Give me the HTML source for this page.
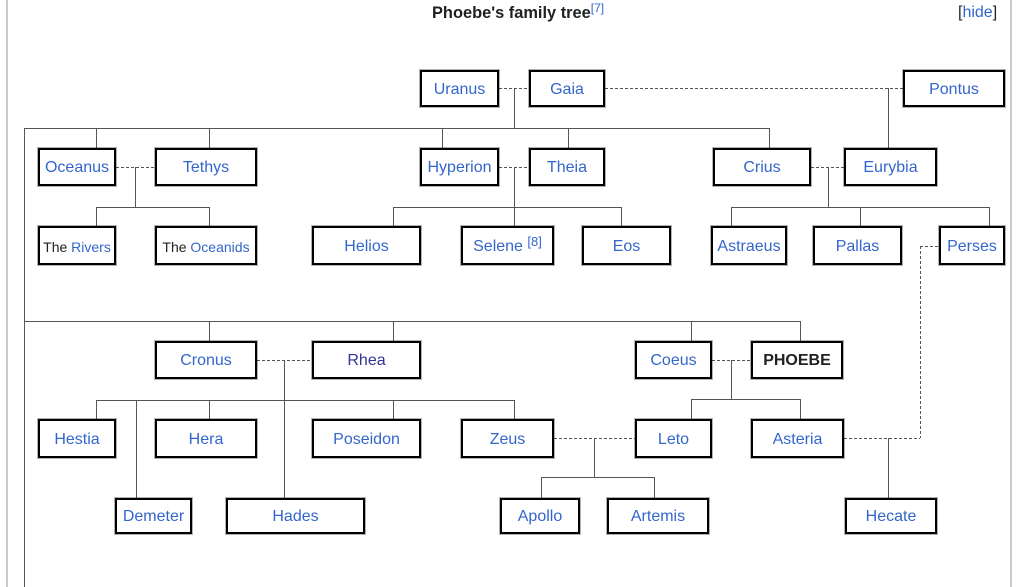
<!DOCTYPE html>
<html><head><meta charset="utf-8">
<style>
html,body{margin:0;padding:0;background:#fff;}
body{width:1023px;height:587px;position:relative;overflow:hidden;font-family:"Liberation Sans",Arial,sans-serif;}
.b{position:absolute;box-sizing:border-box;border:2px solid #000;box-shadow:0 0 0 1px rgba(0,0,0,0.3);background:#fff;display:flex;align-items:center;justify-content:center;font-size:16px;color:#3366cc;white-space:nowrap;padding-top:2px;}
.d{color:#202122;}
.v{color:#33339a;}
.sm{font-size:14px;}
.s8{font-size:13px;line-height:0;position:relative;top:-5px;color:#3366cc;}
svg{position:absolute;left:0;top:0;}
#title{position:absolute;left:432px;top:4px;font-size:16.4px;font-weight:bold;color:#202122;white-space:nowrap;}
#title sup{font-size:12px;line-height:0;vertical-align:6px;color:#3366cc;font-weight:normal;}
#hide{position:absolute;left:958px;top:4px;font-size:16px;color:#202122;}
</style></head><body>
<svg width="1023" height="587" viewBox="0 0 1023 587">
<g stroke="#c8ccd1" stroke-width="2" fill="none">
<line x1="7" y1="0" x2="7" y2="587"/>
<line x1="1011" y1="0" x2="1011" y2="587"/>
</g>
<g stroke="#555" stroke-width="1" fill="none">
<line x1="514.5" y1="88" x2="514.5" y2="128"/>
<line x1="24.5" y1="128.5" x2="769.5" y2="128.5"/>
<line x1="24.5" y1="128" x2="24.5" y2="587"/>
<line x1="96.5" y1="128" x2="96.5" y2="148"/>
<line x1="209.5" y1="128" x2="209.5" y2="148"/>
<line x1="442.5" y1="128" x2="442.5" y2="148"/>
<line x1="568.5" y1="128" x2="568.5" y2="148"/>
<line x1="769.5" y1="128" x2="769.5" y2="148"/>
<line x1="888.5" y1="88" x2="888.5" y2="148"/>
<line x1="135.5" y1="167" x2="135.5" y2="207"/>
<line x1="96.5" y1="207.5" x2="209.5" y2="207.5"/>
<line x1="96.5" y1="207" x2="96.5" y2="226"/>
<line x1="209.5" y1="207" x2="209.5" y2="226"/>
<line x1="514.5" y1="167" x2="514.5" y2="226"/>
<line x1="393.5" y1="207.5" x2="621.5" y2="207.5"/>
<line x1="393.5" y1="207" x2="393.5" y2="226"/>
<line x1="621.5" y1="207" x2="621.5" y2="226"/>
<line x1="828.5" y1="167" x2="828.5" y2="207"/>
<line x1="731.5" y1="207.5" x2="989.5" y2="207.5"/>
<line x1="731.5" y1="207" x2="731.5" y2="226"/>
<line x1="860.5" y1="207" x2="860.5" y2="226"/>
<line x1="989.5" y1="207" x2="989.5" y2="226"/>
<line x1="24.5" y1="321.5" x2="800.5" y2="321.5"/>
<line x1="209.5" y1="321" x2="209.5" y2="341"/>
<line x1="393.5" y1="321" x2="393.5" y2="341"/>
<line x1="691.5" y1="321" x2="691.5" y2="341"/>
<line x1="800.5" y1="321" x2="800.5" y2="341"/>
<line x1="284.5" y1="360" x2="284.5" y2="498"/>
<line x1="96.5" y1="400.5" x2="514.5" y2="400.5"/>
<line x1="96.5" y1="400" x2="96.5" y2="419"/>
<line x1="136.5" y1="400" x2="136.5" y2="498"/>
<line x1="209.5" y1="400" x2="209.5" y2="419"/>
<line x1="393.5" y1="400" x2="393.5" y2="419"/>
<line x1="514.5" y1="400" x2="514.5" y2="419"/>
<line x1="731.5" y1="360" x2="731.5" y2="399"/>
<line x1="691.5" y1="399.5" x2="800.5" y2="399.5"/>
<line x1="691.5" y1="399" x2="691.5" y2="419"/>
<line x1="800.5" y1="399" x2="800.5" y2="419"/>
<line x1="594.5" y1="438" x2="594.5" y2="477"/>
<line x1="541.5" y1="477.5" x2="654.5" y2="477.5"/>
<line x1="541.5" y1="477" x2="541.5" y2="498"/>
<line x1="654.5" y1="477" x2="654.5" y2="498"/>
<line x1="888.5" y1="438" x2="888.5" y2="498"/>
</g>
<g stroke="#555" stroke-width="1" fill="none" stroke-dasharray="3,2">
<line x1="499" y1="88.5" x2="529" y2="88.5"/>
<line x1="605" y1="88.5" x2="903" y2="88.5"/>
<line x1="116" y1="167.5" x2="155" y2="167.5"/>
<line x1="499" y1="167.5" x2="529" y2="167.5"/>
<line x1="811" y1="167.5" x2="844" y2="167.5"/>
<line x1="257" y1="360.5" x2="312" y2="360.5"/>
<line x1="712" y1="360.5" x2="751" y2="360.5"/>
<line x1="554" y1="438.5" x2="635" y2="438.5"/>
<line x1="844" y1="438.5" x2="920" y2="438.5"/>
<line x1="920.5" y1="246" x2="920.5" y2="438"/>
<line x1="920" y1="246.5" x2="939" y2="246.5"/>
</g>
</svg>

<div id="title">Phoebe's family tree<sup>[7]</sup></div>
<div id="hide">[<span style="color:#3366cc">hide</span>]</div>

<div class="b" style="left:420px;top:70px;width:79px;height:37px;">Uranus</div>
<div class="b" style="left:529px;top:70px;width:76px;height:37px;">Gaia</div>
<div class="b" style="left:903px;top:70px;width:102px;height:37px;">Pontus</div>

<div class="b" style="left:38px;top:148px;width:78px;height:38px;">Oceanus</div>
<div class="b" style="left:155px;top:148px;width:102px;height:38px;">Tethys</div>
<div class="b" style="left:420px;top:148px;width:79px;height:38px;">Hyperion</div>
<div class="b" style="left:529px;top:148px;width:76px;height:38px;">Theia</div>
<div class="b" style="left:713px;top:148px;width:98px;height:38px;">Crius</div>
<div class="b" style="left:844px;top:148px;width:93px;height:38px;">Eurybia</div>

<div class="b sm" style="left:38px;top:226px;width:78px;height:39px;"><span class="d">The&nbsp;</span>Rivers</div>
<div class="b sm" style="left:155px;top:226px;width:102px;height:39px;"><span class="d">The&nbsp;</span>Oceanids</div>
<div class="b" style="left:312px;top:226px;width:109px;height:39px;">Helios</div>
<div class="b" style="left:461px;top:226px;width:93px;height:39px;">Selene&nbsp;<span class="s8">[8]</span></div>
<div class="b" style="left:582px;top:226px;width:89px;height:39px;">Eos</div>
<div class="b" style="left:711px;top:226px;width:76px;height:39px;">Astraeus</div>
<div class="b" style="left:813px;top:226px;width:89px;height:39px;">Pallas</div>
<div class="b" style="left:939px;top:226px;width:66px;height:39px;">Perses</div>

<div class="b" style="left:155px;top:341px;width:102px;height:38px;">Cronus</div>
<div class="b v" style="left:312px;top:341px;width:109px;height:38px;">Rhea</div>
<div class="b" style="left:635px;top:341px;width:77px;height:38px;">Coeus</div>
<div class="b d" style="left:751px;top:341px;width:92px;height:38px;font-weight:bold;">PHOEBE</div>

<div class="b" style="left:38px;top:419px;width:78px;height:39px;">Hestia</div>
<div class="b" style="left:155px;top:419px;width:102px;height:39px;">Hera</div>
<div class="b" style="left:312px;top:419px;width:109px;height:39px;">Poseidon</div>
<div class="b" style="left:461px;top:419px;width:93px;height:39px;">Zeus</div>
<div class="b" style="left:635px;top:419px;width:77px;height:39px;">Leto</div>
<div class="b" style="left:751px;top:419px;width:93px;height:39px;">Asteria</div>

<div class="b" style="left:115px;top:498px;width:77px;height:36px;">Demeter</div>
<div class="b" style="left:226px;top:498px;width:139px;height:36px;">Hades</div>
<div class="b" style="left:500px;top:498px;width:80px;height:36px;">Apollo</div>
<div class="b" style="left:607px;top:498px;width:102px;height:36px;">Artemis</div>
<div class="b" style="left:845px;top:498px;width:92px;height:36px;">Hecate</div>
</body></html>
